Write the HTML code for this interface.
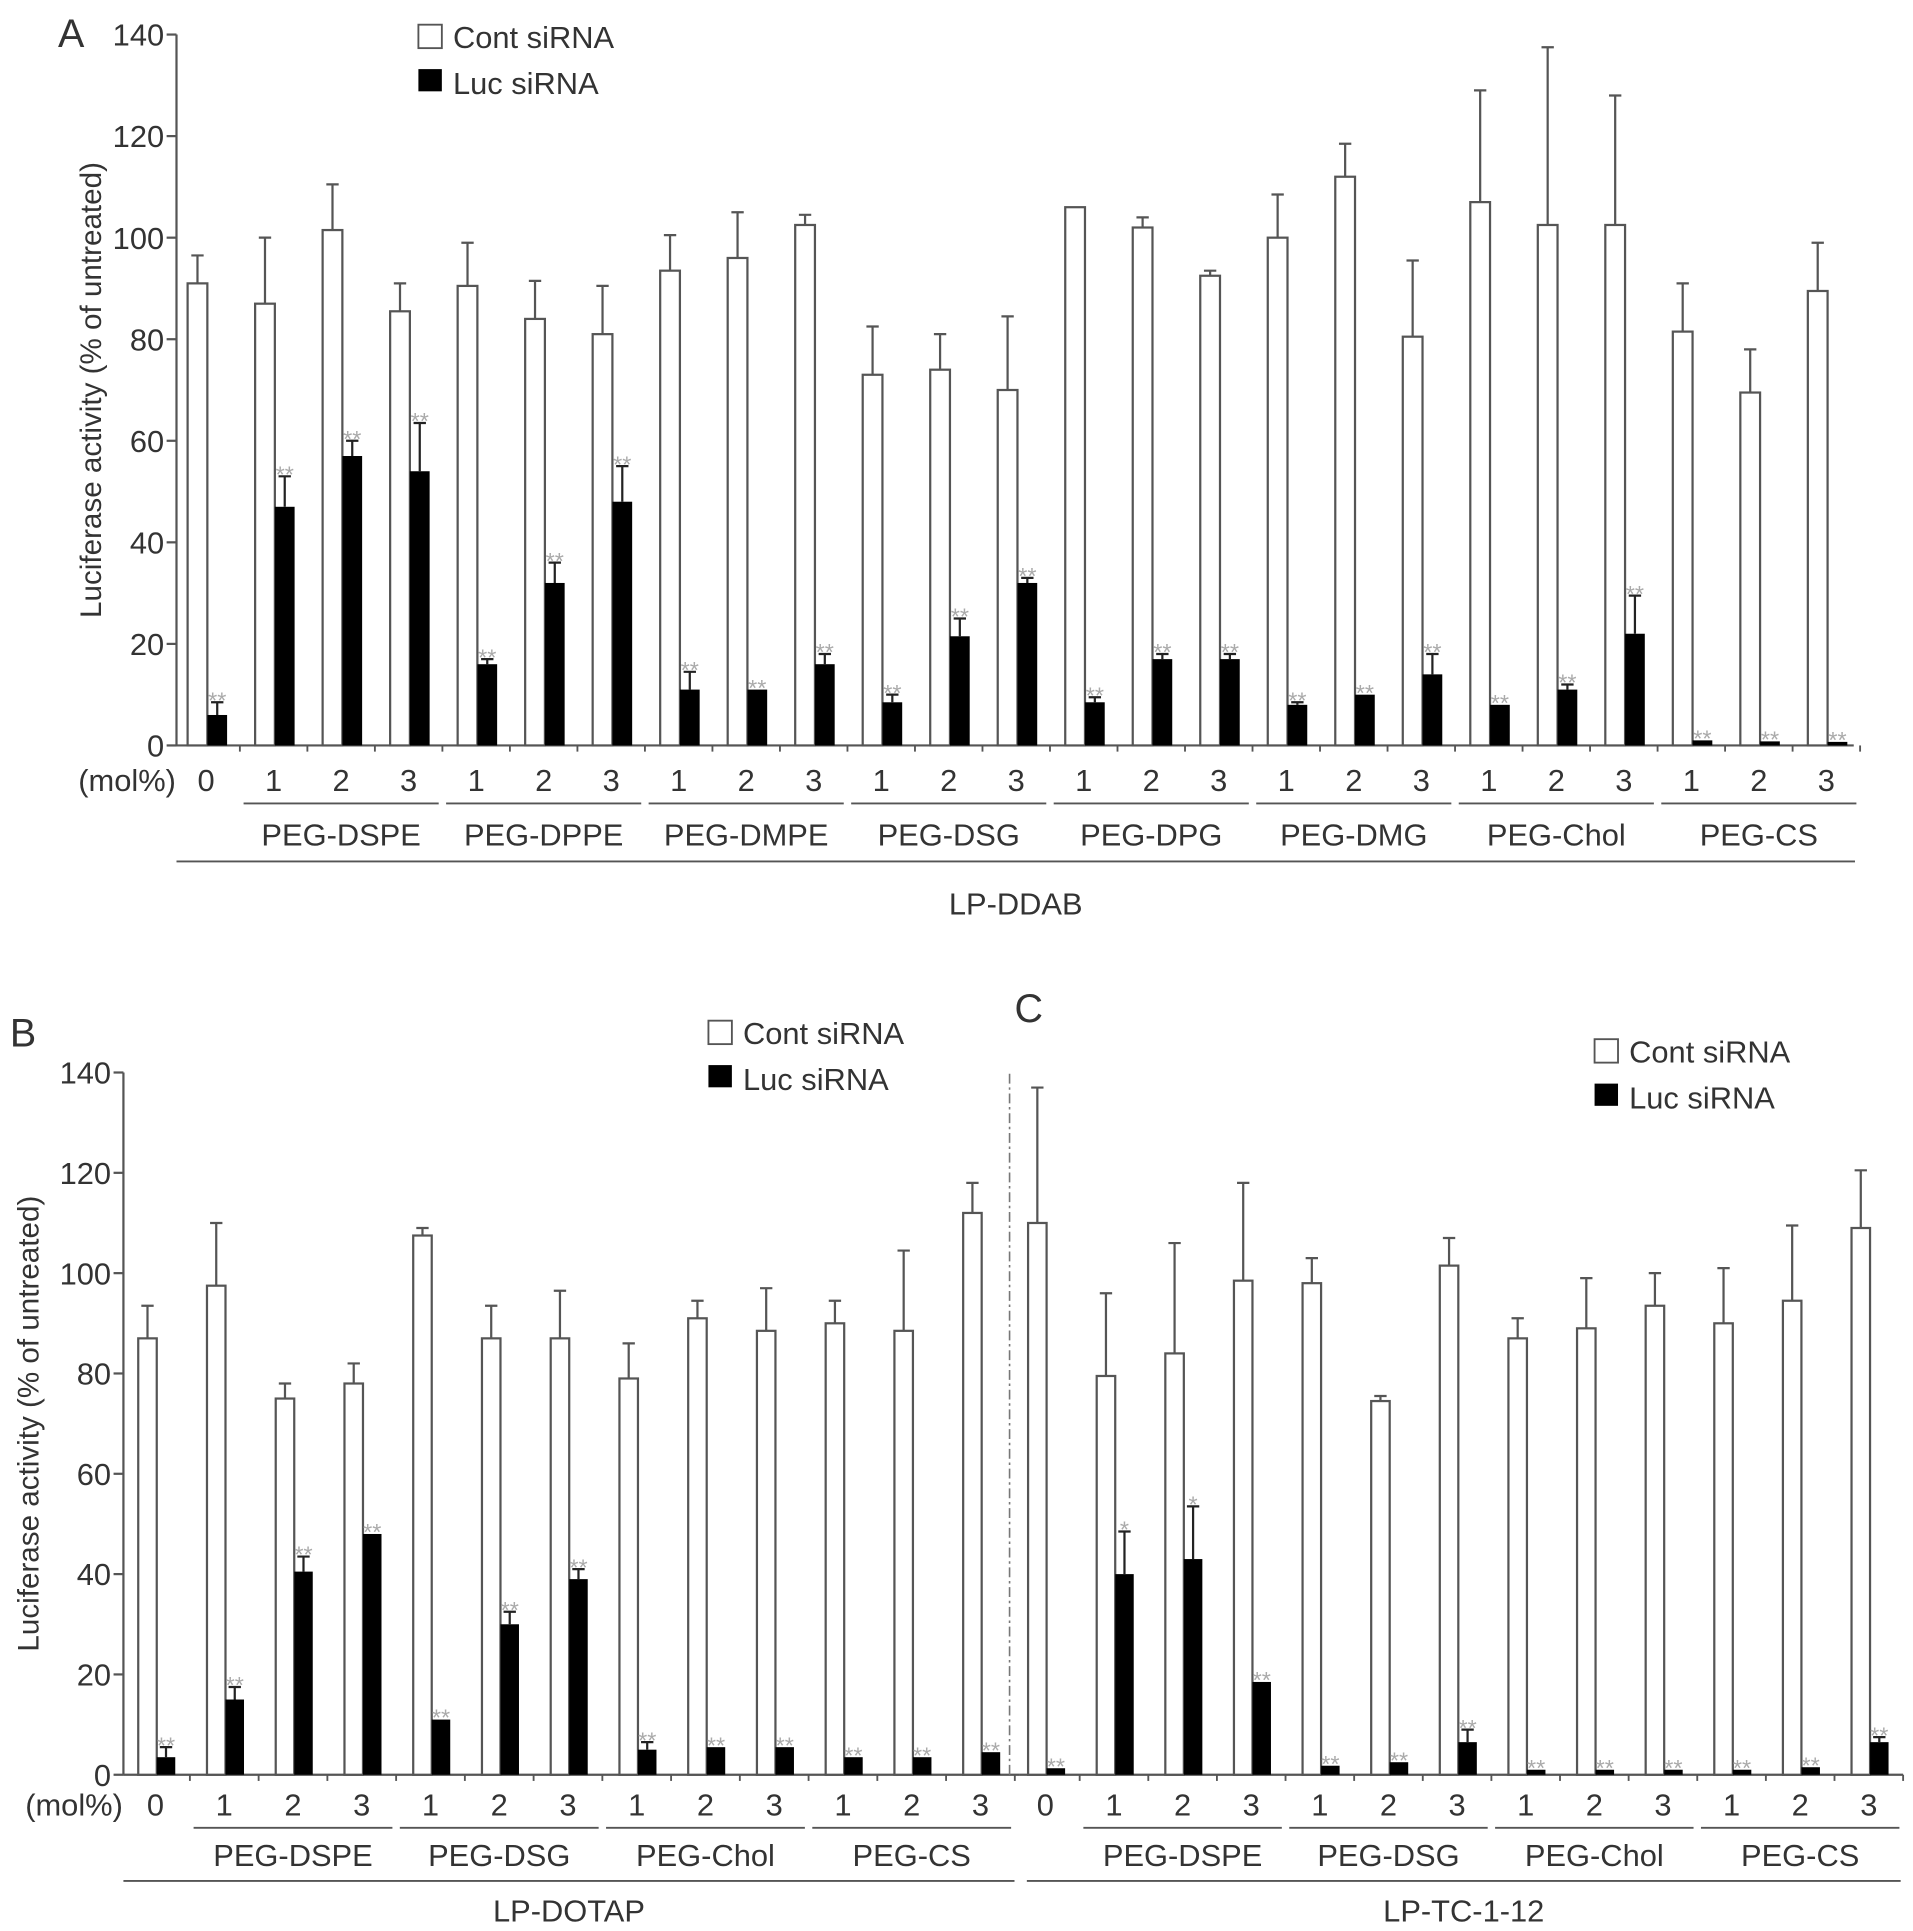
<!DOCTYPE html>
<html><head><meta charset="utf-8">
<style>
html,body{margin:0;padding:0;background:#fff;}
svg{display:block;font-family:"Liberation Sans",sans-serif;}
</style></head>
<body>
<svg id="fig" width="1913" height="1931" viewBox="0 0 1550 1564.6" xmlns="http://www.w3.org/2000/svg">
<g id="static" fill="#333">
  <text x="47" y="38" font-size="32">A</text>
  <text x="8" y="848" font-size="32">B</text>
  <text x="822" y="828" font-size="32">C</text>
</g>
</svg>
<script>
// ---------- Data ----------
const ticks = [0,20,40,60,80,100,120,140];
const molA = ["0","1","2","3","1","2","3","1","2","3","1","2","3","1","2","3","1","2","3","1","2","3","1","2","3"];
const groupsA = ["PEG-DSPE","PEG-DPPE","PEG-DMPE","PEG-DSG","PEG-DPG","PEG-DMG","PEG-Chol","PEG-CS"];
const contA = [91,87,101.5,85.5,90.5,84,81,93.5,96,102.5,73,74,70,106,102,92.5,100,112,80.5,107,102.5,102.5,81.5,69.5,89.5];
const contErrA = [96.5,100,110.5,91,99,91.5,90.5,100.5,105,104.5,82.5,81,84.5,106,104,93.5,108.5,118.5,95.5,129,137.5,128,91,78,99];
const lucA = [6,47,57,54,16,32,48,11,11,16,8.5,21.5,32,8.5,17,17,8,10,14,8,11,22,1,0.8,0.7];
const lucErrA = [8.5,53,60,63.5,17,36,55,14.5,11,18,10,25,33,9.5,18,18,8.5,10,18,8,12,29.5,1,0.8,0.7];
const starsA = ["**","**","**","**","**","**","**","**","**","**","**","**","**","**","**","**","**","**","**","**","**","**","**","**","**"];

const molB = ["0","1","2","3","1","2","3","1","2","3","1","2","3"];
const groupsB = ["PEG-DSPE","PEG-DSG","PEG-Chol","PEG-CS"];
const contB = [87,97.5,75,78,107.5,87,87,79,91,88.5,90,88.5,112];
const contErrB = [93.5,110,78,82,109,93.5,96.5,86,94.5,97,94.5,104.5,118];
const lucB = [3.5,15,40.5,48,11,30,39,5,5.5,5.5,3.5,3.5,4.5];
const lucErrB = [5.5,17.5,43.5,48,11,32.5,41,6.5,5.5,5.5,3.5,3.5,4.5];
const starsB = ["**","**","**","**","**","**","**","**","**","**","**","**","**"];

const contC = [110,79.5,84,98.5,98,74.5,101.5,87,89,93.5,90,94.5,109];
const contErrC = [137,96,106,118,103,75.5,107,91,99,100,101,109.5,120.5];
const lucC = [1.3,40,43,18.5,1.8,2.5,6.5,1,1,1,1,1.5,6.5];
const lucErrC = [1.3,48.5,53.5,18.5,1.8,2.5,9,1,1,1,1,1.5,7.5];
const starsC = ["**","*","*","**","**","**","**","**","**","**","**","**","**"];

// ---------- Drawing ----------
const NS = "http://www.w3.org/2000/svg";
const svg = document.getElementById('fig');
const LINE = "#555", TXT = "#333";
function mk(tag, attrs, parent, text){
  const e = document.createElementNS(NS, tag);
  for (const k in attrs) e.setAttribute(k, attrs[k]);
  if (text !== undefined) e.textContent = text;
  (parent || svg).appendChild(e);
  return e;
}

function panel(o){
  const g = mk('g', {});
  
  
  const y = v => o.y0 - (v / 140) * (o.y0 - o.y140);
  const x = i => o.c0 + o.step * i;
  const lw = 1.8;
  const FS = 25;
  if (o.yAxis) {
    const ax = mk('line', {x1:o.ax, y1:o.y140, x2:o.ax, y2:o.y0, stroke:LINE, 'stroke-width':lw}, g);
    
    
    ticks.forEach(t => {
      const tl = mk('line', {x1:o.ax-8, y1:y(t), x2:o.ax, y2:y(t), stroke:LINE, 'stroke-width':lw}, g);
      
      
      const tt = mk('text', {x:o.ax-10, y:y(t)+9, 'font-size':FS, fill:TXT, 'text-anchor':'end'}, g, String(t));
      
      
    });
    const yt = mk('text', {x:0, y:0, 'font-size':24, fill:TXT, 'text-anchor':'middle',
      transform:`translate(${o.titleX},${(o.y0+o.y140)/2}) rotate(-90)`}, g, 'Luciferase activity (% of untreated)');
    
    
    const ml = mk('text', {x:o.molX, y:o.labY, 'font-size':FS, fill:TXT, 'text-anchor':'middle'}, g, '(mol%)');
    
    
  }
  const xa = mk('line', {x1:o.xStart, y1:o.y0, x2:o.xEnd, y2:o.y0, stroke:LINE, 'stroke-width':lw}, g);
  
  
  o.mol.forEach((m, i) => {
    const mt = mk('line', {x1:x(i)+o.step/2, y1:o.y0, x2:x(i)+o.step/2, y2:o.y0+5, stroke:LINE, 'stroke-width':1.5}, g);
    
    
    const cx = x(i);
    const cb = mk('rect', {x:cx-o.bw+1, y:y(o.cont[i]), width:o.bw, height:o.y0-y(o.cont[i]), fill:'#fff', stroke:LINE, 'stroke-width':lw}, g);
    
    
    const ex = cx-o.bw/2+1;
    if (o.contErr[i] > o.cont[i]) {
      const e1 = mk('path', {d:`M${ex},${y(o.cont[i])}V${y(o.contErr[i])}M${ex-5},${y(o.contErr[i])}H${ex+5}`, stroke:LINE, 'stroke-width':lw, fill:'none'}, g);
      
      
    }
    const lb = mk('rect', {x:cx+1, y:y(o.luc[i]), width:o.bw, height:Math.max(1.5, o.y0-y(o.luc[i])), fill:'#000'}, g);
    
    
    const lx = cx+1+o.bw/2;
    if (o.lucErr[i] > o.luc[i]) {
      const e2 = mk('path', {d:`M${lx},${y(o.luc[i])}V${y(o.lucErr[i])}M${lx-5},${y(o.lucErr[i])}H${lx+5}`, stroke:'#222', 'stroke-width':lw, fill:'none'}, g);
      
      
    }
    const st = mk('text', {x:lx, y:y(Math.max(o.lucErr[i], o.luc[i]))+5, 'font-size':19, fill:'#aaa', 'text-anchor':'middle'}, g, o.stars[i]);
    
    
    const ml = mk('text', {x:cx, y:o.labY, 'font-size':FS, fill:TXT, 'text-anchor':'middle'}, g, m);
    
    
  });
  o.groups.forEach((gn, k) => {
    const a = x(1+3*k) - o.step/2 + 3, b = x(3+3*k) + o.step/2 - 3;
    const ul = mk('line', {x1:a, y1:o.labY+10, x2:b, y2:o.labY+10, stroke:LINE, 'stroke-width':1.5}, g);
    
    
    const gt = mk('text', {x:(a+b)/2, y:o.labY+o.gOff, 'font-size':FS, fill:TXT, 'text-anchor':'middle'}, g, gn);
    
    
  });
  const ll = mk('line', {x1:o.lpX1, y1:o.labY+o.lOff, x2:o.lpX2, y2:o.labY+o.lOff, stroke:LINE, 'stroke-width':1.5}, g);
  
  
  const lt = mk('text', {x:(o.lpX1+o.lpX2)/2, y:o.labY+o.lpOff, 'font-size':FS, fill:TXT, 'text-anchor':'middle'}, g, o.lp);
  
  
  const lg = mk('g', {}, g);
  
  
  const r1 = mk('rect', {x:o.legX, y:o.legY, width:19, height:19, fill:'#fff', stroke:LINE, 'stroke-width':1.5}, lg);
  
  
  const t1 = mk('text', {x:o.legX+28, y:o.legY+19, 'font-size':25, fill:TXT}, lg, 'Cont siRNA');
  
  
  const r2 = mk('rect', {x:o.legX, y:o.legY+36, width:19, height:18, fill:'#000'}, lg);
  
  
  const t2 = mk('text', {x:o.legX+28, y:o.legY+56, 'font-size':25, fill:TXT}, lg, 'Luc siRNA');
  
  
}

panel({name:'panel-a', yAxis:true, ax:143, y0:604, y140:28, titleX:82, molX:103, labY:641,
  gOff:44, lOff:57, lpOff:100,
  xStart:143, xEnd:1502, c0:167, step:54.7, bw:16,
  mol:molA, cont:contA, contErr:contErrA, luc:lucA, lucErr:lucErrA, stars:starsA, groups:groupsA,
  lpX1:143, lpX2:1503, lp:'LP-DDAB', legX:339, legY:20});
panel({name:'panel-b', yAxis:true, ax:100, y0:1438, y140:869, titleX:31, molX:60, labY:1471,
  gOff:41, lOff:53, lpOff:86,
  xStart:100, xEnd:826, c0:126, step:55.7, bw:15,
  mol:molB, cont:contB, contErr:contErrB, luc:lucB, lucErr:lucErrB, stars:starsB, groups:groupsB,
  lpX1:100, lpX2:822, lp:'LP-DOTAP', legX:574, legY:827});
panel({name:'panel-c', yAxis:false, ax:826, y0:1438, y140:869, titleX:0, molX:0, labY:1471,
  gOff:41, lOff:53, lpOff:86,
  xStart:826, xEnd:1542, c0:847, step:55.6, bw:15,
  mol:molB, cont:contC, contErr:contErrC, luc:lucC, lucErr:lucErrC, stars:starsC, groups:groupsB,
  lpX1:832, lpX2:1540, lp:'LP-TC-1-12', legX:1292, legY:842});

const dv = mk('line', {x1:818, y1:870, x2:818, y2:1440, stroke:'#777', 'stroke-width':1.3, 'stroke-dasharray':'8 3 2 3'});


</script>
</body></html>
